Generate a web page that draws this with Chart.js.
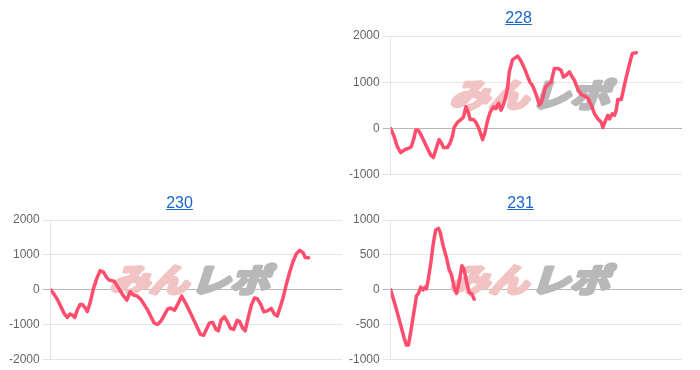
<!DOCTYPE html>
<html>
<head>
<meta charset="utf-8">
<script src="https://cdn.jsdelivr.net/npm/chart.js@4"></script>
<style>
  html, body { margin: 0; padding: 0; background: #fff; }
  body { width: 700px; height: 370px; position: relative; overflow: hidden; font-family: "Liberation Sans", Arial, sans-serif; }
  .cell { position: absolute; width: 339px; height: 185px; }
  .cell canvas { position: absolute; left: 0; top: 0; }
  .ttl { position: absolute; left: 3px; top: 8px; width: 339px; text-align: center; font-size: 16px; line-height: 20px; z-index: 2; }
  .ttl a { color: #1a66cc; text-decoration: underline; }
</style>
</head>
<body>
<div class="cell" style="left:346px; top:0px;"><div class="ttl"><a href="#">228</a></div><canvas id="c228" width="339" height="185"></canvas></div>
<div class="cell" style="left:6px; top:185px;"><div class="ttl" style="left:4px"><a href="#">230</a></div><canvas id="c230" width="339" height="185"></canvas></div>
<div class="cell" style="left:346px; top:185px;"><div class="ttl" style="left:5px"><a href="#">231</a></div><canvas id="c231" width="339" height="185"></canvas></div>
<script>
// ---- data (games played vs. medal difference) ----
const machineNames = ['228', '230', '231'];
const gamesMax = 9000;

const games228 = [0,102,204,310,390,465,567,638,722,774,845,929,1031,1133,1239,1319,1425,1496,1567,1629,1753,1836,1908,1960,2063,2168,2248,2323,2394,2456,2558,2633,2735,2837,2911,2992,3075,3178,3252,3332,3407,3456,3531,3611,3664,3766,3921,4026,4128,4231,4305,4385,4491,4593,4645,4695,4778,4881,4955,5057,5160,5265,5336,5420,5522,5575,5677,5779,5884,5987,6089,6194,6296,6399,6504,6553,6637,6708,6761,6844,6916,6968,7018,7123,7194,7278,7358,7464,7588];
const diff228 = [0,-165,-388,-522,-478,-448,-425,-388,-201,-30,-30,-127,-276,-425,-575,-627,-388,-239,-313,-410,-410,-313,-164,22,134,194,246,470,358,194,194,134,-15,-239,-90,172,358,470,433,545,396,470,620,880,1225,1490,1565,1460,1310,1120,1000,925,740,510,550,660,890,965,1000,1300,1300,1260,1110,1150,1225,1150,1040,850,735,700,660,510,320,210,135,22,170,285,210,320,285,400,625,625,850,1110,1340,1625,1640];

const games230 = [0,102,204,310,412,514,598,669,743,824,907,979,1053,1133,1217,1319,1425,1527,1629,1734,1806,1960,2044,2146,2248,2354,2456,2558,2663,2787,2889,2992,3097,3199,3301,3407,3509,3611,3695,3766,3829,3931,4046,4181,4336,4491,4624,4727,4801,4903,5005,5110,5181,5265,5367,5451,5553,5655,5760,5832,5934,6008,6089,6194,6296,6380,6482,6584,6690,6813,6916,6999,7070,7173,7278,7380,7482,7588,7690,7792,7866,7968];
const diff230 = [0,-120,-270,-470,-670,-790,-690,-720,-790,-570,-420,-420,-500,-620,-370,30,330,550,510,350,280,250,130,-20,-170,-290,-50,-150,-170,-270,-420,-570,-770,-950,-990,-890,-720,-550,-520,-550,-580,-400,-180,-400,-700,-1000,-1270,-1300,-1150,-950,-930,-1130,-1170,-870,-770,-900,-1100,-1130,-870,-900,-1100,-1170,-850,-450,-230,-250,-400,-630,-600,-530,-700,-750,-550,-250,150,500,800,1030,1130,1070,930,920];

const games231 = [0,102,207,310,412,486,548,619,722,796,858,929,1000,1062,1105,1167,1239,1322,1393,1477,1527,1620,1725,1806,1880,1960,2035,2115,2199,2270,2344,2425,2509,2580];
const diff231 = [0,-158,-330,-505,-680,-790,-790,-600,-305,-85,-50,40,0,40,15,165,385,683,856,880,830,633,460,287,213,40,-50,114,346,287,114,-35,-60,-134];

const yTicks228 = [-1000, 0, 1000, 2000];
const yTicks230 = [-2000, -1000, 0, 1000, 2000];
const yTicks231 = [-1000, -500, 0, 500, 1000];

const watermarkLeft = 'みん';
const watermarkRight = 'レポ';

// ---- drawing ----
const watermarkPlugin = {
  id: 'wm',
  beforeDatasetsDraw(chart) {
    const ctx = chart.ctx;
    const a = chart.chartArea;
    const cx = (a.left + a.right) / 2 - 3;
    const cy = 95;
    ctx.save();
    ctx.font = 'bold 36px "Noto Sans CJK JP"';
    const w1 = ctx.measureText(watermarkLeft).width;
    const w2 = ctx.measureText(watermarkRight).width;
    const gap = 2;
    const total = w1 + w2 + gap;
    const target = 160;
    const sx = target / total;
    ctx.translate(cx, cy);
    ctx.transform(sx, 0, -0.3, 0.9, 0, 0);
    ctx.textBaseline = 'middle';
    ctx.textAlign = 'left';
    ctx.lineJoin = 'round';
    ctx.lineWidth = 4;
    ctx.fillStyle = ctx.strokeStyle = '#f1c3c3';
    ctx.strokeText(watermarkLeft, -total / 2, 0);
    ctx.fillText(watermarkLeft, -total / 2, 0);
    ctx.fillStyle = ctx.strokeStyle = '#b8b8b8';
    ctx.strokeText(watermarkRight, -total / 2 + w1 + gap, 0);
    ctx.fillText(watermarkRight, -total / 2 + w1 + gap, 0);
    ctx.restore();
  }
};

function makeChart(id, games, diffs, ticks, padTop, padBottom) {
  const pts = games.map((g, i) => ({ x: g, y: diffs[i] }));
  const step = ticks[1] - ticks[0];
  new Chart(document.getElementById(id), {
    type: 'line',
    data: {
      datasets: [{
        data: pts,
        borderColor: '#ff4d6d',
        borderWidth: 3.5,
        pointRadius: 0,
        pointHoverRadius: 0,
        tension: 0,
        fill: false,
        borderJoinStyle: 'round',
        borderCapStyle: 'round'
      }]
    },
    options: {
      responsive: false,
      animation: false,
      devicePixelRatio: 1,
      layout: { padding: { top: padTop, bottom: padBottom, left: 0, right: 3 } },
      plugins: { legend: { display: false }, tooltip: { enabled: false }, title: { display: false } },
      scales: {
        x: { type: 'linear', min: 0, max: gamesMax, display: false },
        y: {
          min: ticks[0],
          max: ticks[ticks.length - 1],
          ticks: { stepSize: step, color: '#666', font: { size: 12 }, callback: (v) => String(v) },
          grid: {
            color: (c) => (c.tick && c.tick.value === 0) ? 'rgba(0,0,0,0.28)' : 'rgba(0,0,0,0.1)'
          },
          border: { color: 'rgba(0,0,0,0.1)' }
        }
      }
    },
    plugins: [watermarkPlugin]
  });
}

makeChart('c228', games228, diff228, yTicks228, 36, 8);
makeChart('c230', games230, diff230, yTicks230, 35, 9);
makeChart('c231', games231, diff231, yTicks231, 35, 9);
</script>
</body>
</html>
